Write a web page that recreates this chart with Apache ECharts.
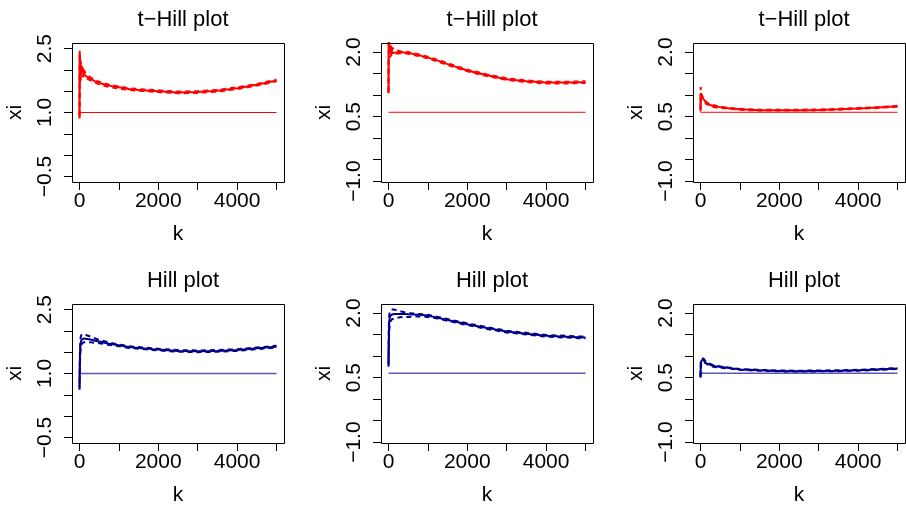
<!DOCTYPE html>
<html>
<head>
<meta charset="utf-8">
<script src="https://cdn.jsdelivr.net/npm/echarts@6/dist/echarts.min.js"></script>
<style>
  html, body { margin: 0; padding: 0; background: #fff; }
  #chart { width: 906px; height: 509px; }
</style>
</head>
<body>
<div id="chart"></div>
<script>
// k values shared by every panel
const kVals = [1, 5, 10, 20, 30, 45, 60, 80, 100, 150, 200, 300, 400, 500, 750, 1000, 1250, 1500, 2000, 2500, 3000, 3500, 4000, 4500, 5000];

// t-Hill estimates (top row), with upper / lower dashed lines
const tHillA   = [0.86, 2.45, 1.80, 2.25, 1.90, 2.12, 1.95, 2.05, 1.92, 1.86, 1.84, 1.78, 1.73, 1.69, 1.63, 1.59, 1.55, 1.53, 1.50, 1.47, 1.48, 1.51, 1.57, 1.65, 1.75];
const tHillAUp = [0.95, 2.40, 2.30, 2.05, 2.20, 1.98, 2.10, 1.92, 2.00, 1.93, 1.88, 1.81, 1.76, 1.72, 1.65, 1.61, 1.57, 1.55, 1.52, 1.49, 1.50, 1.53, 1.59, 1.67, 1.77];
const tHillALo = [0.90, 2.10, 1.65, 1.85, 1.75, 1.95, 1.80, 1.88, 1.82, 1.80, 1.79, 1.74, 1.70, 1.66, 1.60, 1.56, 1.53, 1.51, 1.48, 1.45, 1.46, 1.49, 1.55, 1.63, 1.73];

const tHillB   = [1.04, 2.30, 1.95, 2.15, 1.98, 2.10, 1.96, 2.05, 1.98, 2.02, 1.99, 2.00, 1.99, 1.98, 1.93, 1.87, 1.80, 1.72, 1.57, 1.46, 1.37, 1.32, 1.29, 1.29, 1.30];
const tHillBUp = [1.10, 2.30, 2.25, 2.05, 2.20, 2.00, 2.15, 2.02, 2.10, 2.05, 2.02, 2.02, 2.01, 2.00, 1.95, 1.89, 1.82, 1.74, 1.59, 1.48, 1.39, 1.34, 1.31, 1.31, 1.32];
const tHillBLo = [1.05, 1.90, 1.85, 1.95, 1.88, 1.92, 1.90, 1.94, 1.93, 1.96, 1.96, 1.97, 1.97, 1.96, 1.91, 1.85, 1.78, 1.70, 1.55, 1.44, 1.35, 1.30, 1.27, 1.27, 1.28];

const tHillC   = [0.66, 1.04, 0.90, 0.98, 0.95, 0.97, 0.93, 0.92, 0.88, 0.81, 0.79, 0.75, 0.73, 0.72, 0.69, 0.67, 0.66, 0.65, 0.65, 0.65, 0.655, 0.67, 0.69, 0.71, 0.74];
const tHillCUp = [0.70, 1.19, 1.10, 1.02, 1.00, 0.99, 0.96, 0.94, 0.90, 0.83, 0.81, 0.77, 0.75, 0.73, 0.70, 0.68, 0.67, 0.66, 0.66, 0.66, 0.665, 0.68, 0.70, 0.72, 0.75];
const tHillCLo = [0.62, 0.95, 0.85, 0.92, 0.90, 0.93, 0.90, 0.89, 0.86, 0.79, 0.77, 0.73, 0.71, 0.70, 0.68, 0.66, 0.65, 0.64, 0.64, 0.64, 0.645, 0.66, 0.68, 0.70, 0.73];

// Hill estimates (bottom row)
const hillA   = [0.67, 0.95, 1.30, 1.60, 1.72, 1.78, 1.80, 1.81, 1.82, 1.82, 1.81, 1.79, 1.77, 1.75, 1.70, 1.66, 1.62, 1.60, 1.56, 1.53, 1.52, 1.53, 1.55, 1.59, 1.63];
const hillAUp = [0.75, 1.05, 1.45, 1.75, 1.85, 1.90, 1.93, 1.94, 1.93, 1.91, 1.89, 1.86, 1.82, 1.79, 1.73, 1.68, 1.64, 1.62, 1.58, 1.55, 1.54, 1.55, 1.57, 1.61, 1.65];
const hillALo = [0.62, 0.85, 1.15, 1.45, 1.60, 1.67, 1.70, 1.72, 1.73, 1.74, 1.74, 1.73, 1.72, 1.71, 1.67, 1.64, 1.60, 1.58, 1.54, 1.51, 1.50, 1.51, 1.53, 1.57, 1.61];

const hillB   = [0.79, 1.20, 1.55, 1.80, 1.88, 1.93, 1.95, 1.96, 1.97, 1.98, 1.98, 1.98, 1.98, 1.97, 1.96, 1.94, 1.89, 1.84, 1.74, 1.65, 1.57, 1.52, 1.47, 1.45, 1.43];
const hillBUp = [0.85, 1.35, 1.75, 1.95, 2.02, 2.06, 2.08, 2.09, 2.09, 2.08, 2.06, 2.04, 2.02, 2.00, 1.98, 1.96, 1.91, 1.86, 1.76, 1.67, 1.59, 1.54, 1.49, 1.47, 1.45];
const hillBLo = [0.75, 1.05, 1.35, 1.60, 1.72, 1.80, 1.83, 1.85, 1.86, 1.88, 1.89, 1.90, 1.91, 1.91, 1.92, 1.91, 1.87, 1.82, 1.72, 1.63, 1.55, 1.50, 1.45, 1.43, 1.41];

const hillC   = [0.51, 0.70, 0.82, 0.88, 0.90, 0.92, 0.93, 0.91, 0.88, 0.83, 0.81, 0.78, 0.76, 0.75, 0.72, 0.69, 0.68, 0.67, 0.655, 0.65, 0.655, 0.66, 0.67, 0.69, 0.71];
const hillCUp = [0.55, 0.78, 0.90, 0.95, 0.96, 0.97, 0.97, 0.94, 0.91, 0.85, 0.83, 0.80, 0.78, 0.76, 0.73, 0.70, 0.69, 0.68, 0.665, 0.66, 0.665, 0.67, 0.68, 0.70, 0.72];
const hillCLo = [0.50, 0.65, 0.75, 0.82, 0.85, 0.87, 0.88, 0.87, 0.85, 0.81, 0.79, 0.76, 0.74, 0.73, 0.71, 0.68, 0.67, 0.66, 0.645, 0.64, 0.645, 0.65, 0.66, 0.68, 0.70];

// true xi (horizontal line), spanning the k range
const trueXi = [1.0, 0.6, 0.6, 1.0, 0.6, 0.6];
const kSpan = [1, 5000];

// ticks and labels
const xTicks = [0, 1000, 2000, 3000, 4000, 5000];
const xLabels = [0, 2000, 4000];
const yTicksA = [-0.5, 0, 0.5, 1.0, 1.5, 2.0, 2.5];
const yLabelsA = [-0.5, 1.0, 2.5];
const yTicksB = [-1.0, -0.5, 0, 0.5, 1.0, 1.5, 2.0];
const yLabelsB = [-1.0, 0.5, 2.0];

const titles = ['t\u2212Hill plot', 't\u2212Hill plot', 't\u2212Hill plot', 'Hill plot', 'Hill plot', 'Hill plot'];

const panels = [
  { est: tHillA, up: tHillAUp, lo: tHillALo, y: 'A', color: '#ff0000', trueColor: '#ff0000' },
  { est: tHillB, up: tHillBUp, lo: tHillBLo, y: 'B', color: '#ff0000', trueColor: '#ff0000' },
  { est: tHillC, up: tHillCUp, lo: tHillCLo, y: 'B', color: '#ff0000', trueColor: '#ff0000' },
  { est: hillA, up: hillAUp, lo: hillALo, y: 'A', color: '#00008b', trueColor: '#5a5ab4' },
  { est: hillB, up: hillBUp, lo: hillBLo, y: 'B', color: '#00008b', trueColor: '#5a5ab4' },
  { est: hillC, up: hillCUp, lo: hillCLo, y: 'B', color: '#00008b', trueColor: '#5a5ab4' }
];

const FONT = '"Liberation Sans", Arial, Helvetica, sans-serif';
const FS = 21;
const TFS = 22;
const colLeft = [72, 381, 693];
const rowTop = [43, 304];
const boxW = 212;
const boxH = 139;

const fmtNum = (v, d) => v.toFixed(d).replace('-', '\u2212');
const zip = (xs, ys) => xs.map((x, i) => [x, ys[i]]);

const chart = echarts.init(document.getElementById('chart'), null, { renderer: 'canvas' });

const grid = [], xAxis = [], yAxis = [], series = [], title = [], boxes = [];

panels.forEach((p, i) => {
  const col = i % 3, row = Math.floor(i / 3);
  grid.push({ left: colLeft[col], top: rowTop[row], width: boxW, height: boxH, show: false });
  // plot frame
  boxes.push({
    type: 'rect', silent: true, z: 100,
    shape: { x: colLeft[col] + 0.5, y: rowTop[row] + 0.5, width: boxW, height: boxH },
    style: { fill: null, stroke: '#000', lineWidth: 1 }
  });
  title.push({
    text: titles[i],
    left: colLeft[col] + boxW / 2,
    top: rowTop[row] - 39,
    textAlign: 'center',
    textStyle: { fontFamily: FONT, fontSize: TFS, fontWeight: 'normal', color: '#000' }
  });
  xAxis.push({
    type: 'value', gridIndex: i, min: -190, max: 5190,
    name: 'k', nameLocation: 'middle', nameGap: 42,
    nameTextStyle: { fontFamily: FONT, fontSize: FS, color: '#000' },
    axisLine: { show: false, onZero: false },
    splitLine: { show: false },
    axisTick: { show: true, inside: false, length: 8, customValues: xTicks, lineStyle: { color: '#000' } },
    axisLabel: {
      show: true, margin: 9, customValues: xLabels, color: '#000',
      fontFamily: FONT, fontSize: FS, formatter: v => String(v)
    }
  });
  const yr = p.y === 'A' ? [-0.63, 2.63] : [-1.02, 2.21];
  yAxis.push({
    type: 'value', gridIndex: i, min: yr[0], max: yr[1],
    name: 'xi', nameLocation: 'middle', nameGap: 46,
    nameTextStyle: { fontFamily: FONT, fontSize: FS, color: '#000' },
    axisLine: { show: false, onZero: false },
    splitLine: { show: false },
    axisTick: { show: true, inside: false, length: 8, customValues: p.y === 'A' ? yTicksA : yTicksB, lineStyle: { color: '#000' } },
    axisLabel: {
      show: true, margin: 16, rotate: 90, customValues: p.y === 'A' ? yLabelsA : yLabelsB,
      color: '#000', fontFamily: FONT, fontSize: FS, formatter: v => fmtNum(v, 1)
    }
  });

  const base = { type: 'line', xAxisIndex: i, yAxisIndex: i, showSymbol: false, symbol: 'none', clip: true, silent: true };
  series.push(Object.assign({}, base, {
    data: zip(kSpan, kSpan.map(() => trueXi[i])),
    lineStyle: { color: p.trueColor, width: i < 3 ? 1 : 1.4 }
  }));
  series.push(Object.assign({}, base, {
    data: zip(kVals, p.up),
    lineStyle: { color: p.color, width: 2, type: [5, 4] }
  }));
  series.push(Object.assign({}, base, {
    data: zip(kVals, p.lo),
    lineStyle: { color: p.color, width: 2, type: [5, 4] }
  }));
  series.push(Object.assign({}, base, {
    data: zip(kVals, p.est),
    lineStyle: { color: p.color, width: 2 }
  }));
});

chart.setOption({
  animation: false,
  backgroundColor: '#fff',
  title: title,
  grid: grid,
  xAxis: xAxis,
  yAxis: yAxis,
  series: series,
  graphic: { elements: boxes }
});
</script>
</body>
</html>
